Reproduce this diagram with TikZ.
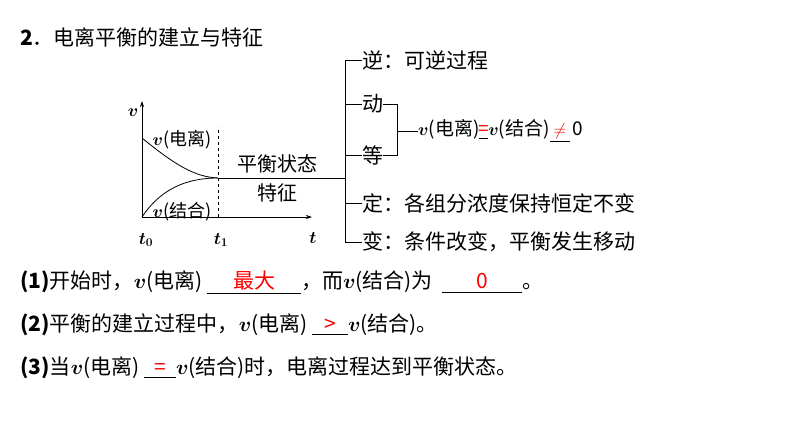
\documentclass[tikz,border=0pt]{standalone}
\usepackage{amsmath}
\usepackage{fontspec}
\setmainfont{Noto Sans CJK SC}
\usetikzlibrary{arrows.meta}
\newcommand{\blankfill}[2]{\underline{\makebox[#1]{\textcolor{red}{#2}}}}
\newcommand{\vv}{$\boldsymbol{v}$}
\tikzset{
  txt/.style={anchor=west,inner sep=0pt,font=\fontsize{21}{25}\selectfont},
  lbl/.style={inner sep=0pt,font=\fontsize{18}{22}\selectfont},
  ax/.style={line width=0.8pt,-{Stealth[length=6pt,width=4pt]}},
  ln/.style={line width=1pt},
}
\begin{document}
\begin{tikzpicture}[x=1pt,y=-1pt]
\useasboundingbox (0,0) rectangle (794,447);
\node[txt] (title) at (20,37) {\textbf{2}．电离平衡的建立与特征};
% axes
\coordinate (o) at (142,217);
\coordinate (ytop) at (142,101);
\coordinate (xend) at (312,217);
\coordinate (t1) at (218,217);
\coordinate (t1top) at (218,127);
\coordinate (eq) at (218,178);
\coordinate (top0) at (142,138);
\draw[ax] (o) -- (ytop);
\draw[ax] (o) -- (xend);
\draw[dashed,line width=0.7pt] (t1) -- (t1top);
\draw[line width=0.8pt] (top0) .. controls (175,165) and (195,177) .. (eq);
\draw[line width=0.8pt] (o) .. controls (160,190) and (185,178) .. (eq);
\node[lbl] (vlab) at (133,113) {\vv};
\node[lbl] (t0l) at (146,240) {$\boldsymbol{t_0}$};
\node[lbl] (t1l) at (221,240) {$\boldsymbol{t_1}$};
\node[lbl] (tl) at (313,238) {$\boldsymbol{t}$};
\node[lbl] (vdl) at (182,140) {\vv(电离)};
\node[lbl] (vjh) at (182,212) {\vv(结合)};
\node[lbl,font=\fontsize{20}{24}\selectfont] (ph) at (277,164) {平衡状态};
\node[lbl,font=\fontsize{20}{24}\selectfont] (tz) at (277,193) {特征};
\coordinate (br) at (345,178);
\draw[ln] (eq) -- (br);
% bracket
\coordinate (bt) at (345,60);
\coordinate (bb) at (345,242);
\draw[ln] (bt) -- (bb);
\node[txt] (n1) at (362,60) {逆：可逆过程};
\node[txt] (n2) at (362,104) {动};
\node[txt] (n3) at (362,155) {等};
\node[txt] (n4) at (362,203) {定：各组分浓度保持恒定不变};
\node[txt] (n5) at (362,242) {变：条件改变，平衡发生移动};
\foreach \n/\y in {n1/60,n2/104,n3/155,n4/203,n5/242}
  \draw[ln] (345,\y) -- (\n.west);
\coordinate (s1) at (397,104);
\coordinate (s2) at (397,155);
\draw[ln] (n2.east) -- (s1) -- (s2) -- (n3.east);
\node[txt,font=\fontsize{19}{23}\selectfont] (rel) at (418,131) {\vv(电离)\blankfill{9pt}{=}\vv(结合)\blankfill{20pt}{$\neq$}\,0};
\draw[ln] (397,131) -- (rel.west);
% bottom lines
\node[txt] (l1) at (20,283) {\textbf{(1)}开始时，\vv(电离) \blankfill{94pt}{最大}，而\vv(结合)为\ \ \blankfill{80pt}{0}。};
\node[txt] (l2) at (20,325) {\textbf{(2)}平衡的建立过程中，\vv(电离) \blankfill{36pt}{>}\vv(结合)。};
\node[txt] (l3) at (20,368) {\textbf{(3)}当\vv(电离) \blankfill{32pt}{=}\vv(结合)时，电离过程达到平衡状态。};
\end{tikzpicture}
\end{document}
